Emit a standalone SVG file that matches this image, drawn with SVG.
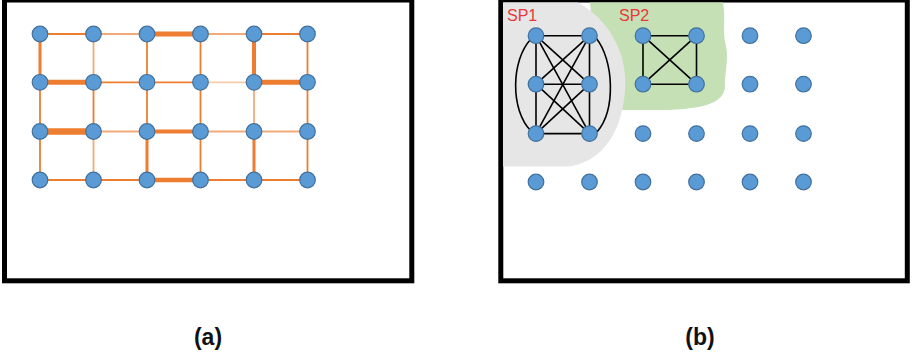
<svg xmlns="http://www.w3.org/2000/svg" width="914" height="359" viewBox="0 0 914 359">
  <style>
    .frame { fill: #ffffff; stroke: #000000; stroke-width: 5; }
    .node { fill: #5b9bd5; stroke: #41719c; stroke-width: 1.2; }
    .e { stroke: #ed7d31; fill: none; stroke-linecap: butt; }
    .t1 { stroke-width: 1.8; }
    .lt { stroke-opacity: 0.65; }
    .vlt { stroke-opacity: 0.4; }
    .k { stroke: #000000; stroke-width: 1.6; fill: none; }
    .sp { font-family: "Liberation Sans", Arial, sans-serif; font-size: 16px; fill: #e8383a; }
    .cap { font-family: "Liberation Sans", Arial, sans-serif; font-size: 23px; font-weight: bold; fill: #111111; text-anchor: middle; }
  </style>

  <!-- panel frames -->
  <rect class="frame" x="4.5" y="0" width="407.3" height="280.8"/>
  <rect class="frame" x="500.8" y="0" width="406.5" height="280.8"/>

  <!-- shaded supernode regions (panel b) -->
  <path id="region-sp2" d="M 570,2.5 L 723,2.5 C 726,20 722,32 726,46 C 729,60 724,76 725,88 C 722,105 700,108 670,110 L 600,110 L 590,2.5 Z" fill="#c5e0b4"/>
  <path id="region-sp1" d="M 503,2.5 L 578,2.5 C 610,20 628,55 625,90 C 622,130 605,160 570,166.5 L 503,166.5 Z" fill="#e6e6e6"/>

  <!-- connectors -->
  <g id="connectors">
    <!-- panel (a): weighted grid edges, rows -->
    <line class="e t1" x1="40" y1="34" x2="93.5" y2="34"/>
    <line class="e t1 lt" x1="93.5" y1="34" x2="147" y2="34"/>
    <line class="e" stroke-width="5" x1="147" y1="34" x2="200.5" y2="34"/>
    <line class="e t1 lt" x1="200.5" y1="34" x2="254" y2="34"/>
    <line class="e t1" x1="254" y1="34" x2="307.5" y2="34"/>

    <line class="e" stroke-width="5" x1="40" y1="82.3" x2="93.5" y2="82.3"/>
    <line class="e t1" x1="93.5" y1="82.3" x2="147" y2="82.3"/>
    <line class="e t1" x1="147" y1="82.3" x2="200.5" y2="82.3"/>
    <line class="e t1 vlt" x1="200.5" y1="82.3" x2="254" y2="82.3"/>
    <line class="e" stroke-width="5" x1="254" y1="82.3" x2="307.5" y2="82.3"/>

    <line class="e" stroke-width="6.5" x1="40" y1="131.5" x2="93.5" y2="131.5"/>
    <line class="e t1 lt" x1="93.5" y1="131.5" x2="147" y2="131.5"/>
    <line class="e" stroke-width="4.2" x1="147" y1="131.5" x2="200.5" y2="131.5"/>
    <line class="e t1 lt" x1="200.5" y1="131.5" x2="254" y2="131.5"/>
    <line class="e t1 lt" x1="254" y1="131.5" x2="307.5" y2="131.5"/>

    <line class="e t1" x1="40" y1="180" x2="93.5" y2="180"/>
    <line class="e t1" x1="93.5" y1="180" x2="147" y2="180"/>
    <line class="e" stroke-width="4.5" x1="147" y1="180" x2="200.5" y2="180"/>
    <line class="e t1" x1="200.5" y1="180" x2="254" y2="180"/>
    <line class="e t1" x1="254" y1="180" x2="307.5" y2="180"/>

    <!-- panel (a): columns -->
    <line class="e" stroke-width="3" x1="40" y1="34" x2="40" y2="82.3"/>
    <line class="e t1" x1="40" y1="82.3" x2="40" y2="131.5"/>
    <line class="e t1" x1="40" y1="131.5" x2="40" y2="180"/>

    <line class="e t1 lt" x1="93.5" y1="34" x2="93.5" y2="82.3"/>
    <line class="e t1" x1="93.5" y1="82.3" x2="93.5" y2="131.5"/>
    <line class="e t1 lt" x1="93.5" y1="131.5" x2="93.5" y2="180"/>

    <line class="e t1" x1="147" y1="34" x2="147" y2="82.3"/>
    <line class="e t1" x1="147" y1="82.3" x2="147" y2="131.5"/>
    <line class="e" stroke-width="3" x1="147" y1="131.5" x2="147" y2="180"/>

    <line class="e t1" x1="200.5" y1="34" x2="200.5" y2="82.3"/>
    <line class="e t1" x1="200.5" y1="82.3" x2="200.5" y2="131.5"/>
    <line class="e t1" x1="200.5" y1="131.5" x2="200.5" y2="180"/>

    <line class="e" stroke-width="4" x1="254" y1="34" x2="254" y2="82.3"/>
    <line class="e t1 lt" x1="254" y1="82.3" x2="254" y2="131.5"/>
    <line class="e" stroke-width="3" x1="254" y1="131.5" x2="254" y2="180"/>

    <line class="e t1" x1="307.5" y1="34" x2="307.5" y2="82.3"/>
    <line class="e t1" x1="307.5" y1="82.3" x2="307.5" y2="131.5"/>
    <line class="e t1" x1="307.5" y1="131.5" x2="307.5" y2="180"/>

    <!-- panel (b): SP1 complete graph -->
    <line class="k" x1="536" y1="35.7" x2="589.5" y2="35.7"/>
    <line class="k" x1="536" y1="84.2" x2="589.5" y2="84.2"/>
    <line class="k" x1="536" y1="133.6" x2="589.5" y2="133.6"/>
    <line class="k" x1="536" y1="35.7" x2="536" y2="84.2"/>
    <line class="k" x1="536" y1="84.2" x2="536" y2="133.6"/>
    <line class="k" x1="589.5" y1="35.7" x2="589.5" y2="84.2"/>
    <line class="k" x1="589.5" y1="84.2" x2="589.5" y2="133.6"/>
    <line class="k" x1="536" y1="35.7" x2="589.5" y2="84.2"/>
    <line class="k" x1="589.5" y1="35.7" x2="536" y2="84.2"/>
    <line class="k" x1="536" y1="84.2" x2="589.5" y2="133.6"/>
    <line class="k" x1="589.5" y1="84.2" x2="536" y2="133.6"/>
    <line class="k" x1="536" y1="35.7" x2="589.5" y2="133.6"/>
    <line class="k" x1="589.5" y1="35.7" x2="536" y2="133.6"/>
    <path class="k" d="M 531,39 C 511,60 510,110 531,131"/>
    <path class="k" d="M 596,38 C 614,60 616,110 597,132"/>

    <!-- panel (b): SP2 complete graph -->
    <line class="k" x1="643" y1="35.7" x2="696.5" y2="35.7"/>
    <line class="k" x1="643" y1="84.2" x2="696.5" y2="84.2"/>
    <line class="k" x1="643" y1="35.7" x2="643" y2="84.2"/>
    <line class="k" x1="696.5" y1="35.7" x2="696.5" y2="84.2"/>
    <line class="k" x1="643" y1="35.7" x2="696.5" y2="84.2"/>
    <line class="k" x1="696.5" y1="35.7" x2="643" y2="84.2"/>
  </g>

  <!-- panel (a) nodes -->
  <g id="a-r0c0"><circle class="node" cx="40" cy="34" r="7.8"/></g>
  <g id="a-r0c1"><circle class="node" cx="93.5" cy="34" r="7.8"/></g>
  <g id="a-r0c2"><circle class="node" cx="147" cy="34" r="7.8"/></g>
  <g id="a-r0c3"><circle class="node" cx="200.5" cy="34" r="7.8"/></g>
  <g id="a-r0c4"><circle class="node" cx="254" cy="34" r="7.8"/></g>
  <g id="a-r0c5"><circle class="node" cx="307.5" cy="34" r="7.8"/></g>
  <g id="a-r1c0"><circle class="node" cx="40" cy="82.3" r="7.8"/></g>
  <g id="a-r1c1"><circle class="node" cx="93.5" cy="82.3" r="7.8"/></g>
  <g id="a-r1c2"><circle class="node" cx="147" cy="82.3" r="7.8"/></g>
  <g id="a-r1c3"><circle class="node" cx="200.5" cy="82.3" r="7.8"/></g>
  <g id="a-r1c4"><circle class="node" cx="254" cy="82.3" r="7.8"/></g>
  <g id="a-r1c5"><circle class="node" cx="307.5" cy="82.3" r="7.8"/></g>
  <g id="a-r2c0"><circle class="node" cx="40" cy="131.5" r="7.8"/></g>
  <g id="a-r2c1"><circle class="node" cx="93.5" cy="131.5" r="7.8"/></g>
  <g id="a-r2c2"><circle class="node" cx="147" cy="131.5" r="7.8"/></g>
  <g id="a-r2c3"><circle class="node" cx="200.5" cy="131.5" r="7.8"/></g>
  <g id="a-r2c4"><circle class="node" cx="254" cy="131.5" r="7.8"/></g>
  <g id="a-r2c5"><circle class="node" cx="307.5" cy="131.5" r="7.8"/></g>
  <g id="a-r3c0"><circle class="node" cx="40" cy="180" r="7.8"/></g>
  <g id="a-r3c1"><circle class="node" cx="93.5" cy="180" r="7.8"/></g>
  <g id="a-r3c2"><circle class="node" cx="147" cy="180" r="7.8"/></g>
  <g id="a-r3c3"><circle class="node" cx="200.5" cy="180" r="7.8"/></g>
  <g id="a-r3c4"><circle class="node" cx="254" cy="180" r="7.8"/></g>
  <g id="a-r3c5"><circle class="node" cx="307.5" cy="180" r="7.8"/></g>

  <!-- panel (b) nodes -->
  <g id="b-r0c0"><circle class="node" cx="536" cy="35.7" r="7.8"/></g>
  <g id="b-r0c1"><circle class="node" cx="589.5" cy="35.7" r="7.8"/></g>
  <g id="b-r0c2"><circle class="node" cx="643" cy="35.7" r="7.8"/></g>
  <g id="b-r0c3"><circle class="node" cx="696.5" cy="35.7" r="7.8"/></g>
  <g id="b-r0c4"><circle class="node" cx="750" cy="35.7" r="7.8"/></g>
  <g id="b-r0c5"><circle class="node" cx="803.5" cy="35.7" r="7.8"/></g>
  <g id="b-r1c0"><circle class="node" cx="536" cy="84.2" r="7.8"/></g>
  <g id="b-r1c1"><circle class="node" cx="589.5" cy="84.2" r="7.8"/></g>
  <g id="b-r1c2"><circle class="node" cx="643" cy="84.2" r="7.8"/></g>
  <g id="b-r1c3"><circle class="node" cx="696.5" cy="84.2" r="7.8"/></g>
  <g id="b-r1c4"><circle class="node" cx="750" cy="84.2" r="7.8"/></g>
  <g id="b-r1c5"><circle class="node" cx="803.5" cy="84.2" r="7.8"/></g>
  <g id="b-r2c0"><circle class="node" cx="536" cy="133.6" r="7.8"/></g>
  <g id="b-r2c1"><circle class="node" cx="589.5" cy="133.6" r="7.8"/></g>
  <g id="b-r2c2"><circle class="node" cx="643" cy="133.6" r="7.8"/></g>
  <g id="b-r2c3"><circle class="node" cx="696.5" cy="133.6" r="7.8"/></g>
  <g id="b-r2c4"><circle class="node" cx="750" cy="133.6" r="7.8"/></g>
  <g id="b-r2c5"><circle class="node" cx="803.5" cy="133.6" r="7.8"/></g>
  <g id="b-r3c0"><circle class="node" cx="536" cy="182" r="7.8"/></g>
  <g id="b-r3c1"><circle class="node" cx="589.5" cy="182" r="7.8"/></g>
  <g id="b-r3c2"><circle class="node" cx="643" cy="182" r="7.8"/></g>
  <g id="b-r3c3"><circle class="node" cx="696.5" cy="182" r="7.8"/></g>
  <g id="b-r3c4"><circle class="node" cx="750" cy="182" r="7.8"/></g>
  <g id="b-r3c5"><circle class="node" cx="803.5" cy="182" r="7.8"/></g>

  <!-- supernode labels -->
  <text class="sp" x="507" y="21">SP1</text>
  <text class="sp" x="619" y="21">SP2</text>

  <!-- panel captions -->
  <text class="cap" x="208" y="345">(a)</text>
  <text class="cap" x="700" y="345">(b)</text>
</svg>
